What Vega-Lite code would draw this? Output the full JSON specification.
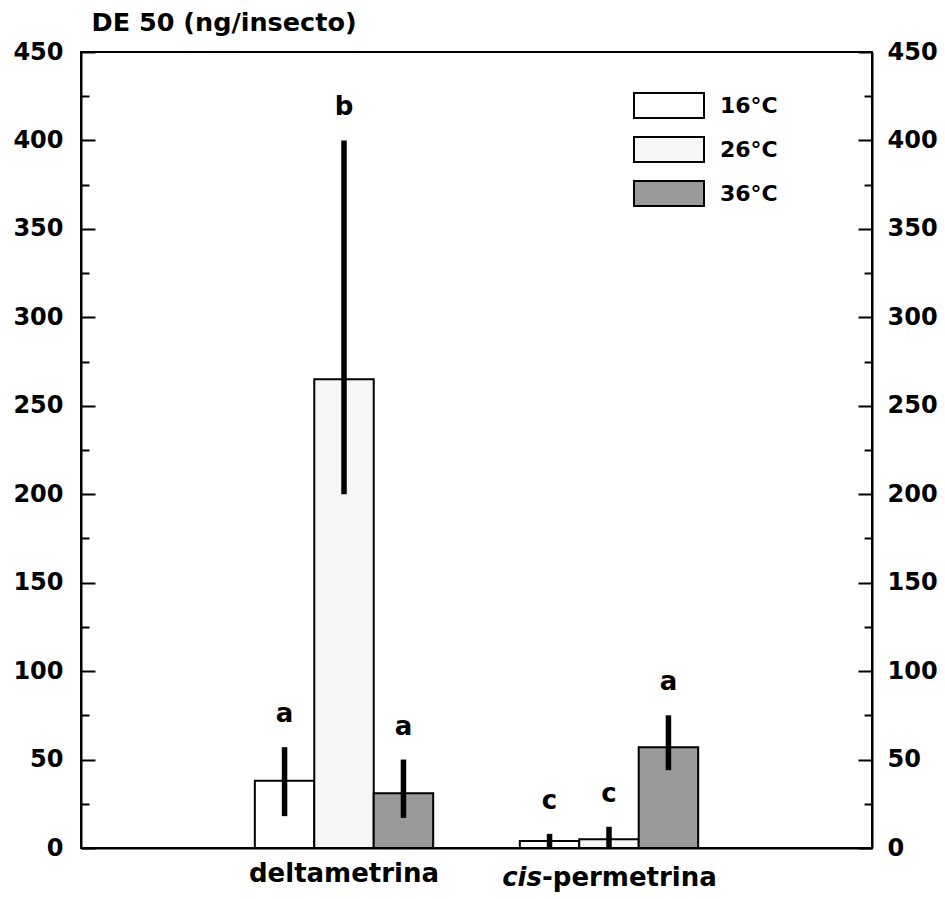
{
  "$schema": "https://vega.github.io/schema/vega-lite/v6.json",
  "width": 791,
  "height": 796,
  "autosize": "none",
  "padding": {"left": 81, "top": 52, "right": 73, "bottom": 51},
  "background": "white",
  "config": {
    "font": "DejaVu Sans",
    "view": {"stroke": "black", "strokeWidth": 2},
    "axis": {
      "grid": false,
      "domainColor": "black",
      "domainWidth": 2,
      "tickColor": "black",
      "tickWidth": 2,
      "labelColor": "black",
      "labelFont": "DejaVu Sans",
      "labelFontWeight": "bold",
      "labelFontSize": 24,
      "labelLimit": 0,
      "titleColor": "black",
      "titleFont": "DejaVu Sans"
    },
    "legend": {
      "orient": "none",
      "legendX": 552,
      "legendY": 35,
      "symbolType": "M-1,-0.72H3V0.72H-1Z",
      "symbolSize": 1225,
      "symbolStrokeColor": "black",
      "symbolStrokeWidth": 2,
      "symbolOpacity": 1,
      "labelFont": "DejaVu Sans",
      "labelFontSize": 22,
      "labelFontWeight": "bold",
      "labelColor": "black",
      "labelOffset": 50,
      "rowPadding": 8
    }
  },
  "data": {
    "values": [
      {"compuesto": "deltametrina", "temperatura": "16°C", "de50": 38, "min": 18, "max": 57, "letra": "a"},
      {"compuesto": "deltametrina", "temperatura": "26°C", "de50": 265, "min": 200, "max": 400, "letra": "b"},
      {"compuesto": "deltametrina", "temperatura": "36°C", "de50": 31, "min": 17, "max": 50, "letra": "a"},
      {"compuesto": "cis-permetrina", "temperatura": "16°C", "de50": 4, "min": 0, "max": 8, "letra": "c"},
      {"compuesto": "cis-permetrina", "temperatura": "26°C", "de50": 5, "min": 0, "max": 12, "letra": "c"},
      {"compuesto": "cis-permetrina", "temperatura": "36°C", "de50": 57, "min": 44, "max": 75, "letra": "a"}
    ]
  },
  "layer": [
    {
      "mark": {"type": "bar", "stroke": "black", "strokeWidth": 2},
      "encoding": {
        "x": {
          "field": "compuesto",
          "type": "nominal",
          "sort": ["deltametrina", "cis-permetrina"],
          "scale": {"paddingInner": 0.327, "paddingOuter": 0.656},
          "axis": {
            "title": null,
            "ticks": false,
            "labelAngle": 0,
            "labelFontSize": 26,
            "labelPadding": 12,
            "labelExpr": "datum.value === 'cis-permetrina' ? '' : datum.label"
          }
        },
        "xOffset": {
          "field": "temperatura",
          "type": "nominal",
          "sort": ["16°C", "26°C", "36°C"],
          "scale": {"paddingInner": 0, "paddingOuter": 0}
        },
        "y": {
          "field": "de50",
          "type": "quantitative",
          "scale": {"domain": [0, 450], "nice": false},
          "axis": {
            "orient": "left",
            "title": "DE 50 (ng/insecto)",
            "titleAngle": 0,
            "titleAlign": "left",
            "titleBaseline": "middle",
            "titleX": 10,
            "titleY": -30,
            "titleFontSize": 25.5,
            "titleFontWeight": "bold",
            "values": [0, 25, 50, 75, 100, 125, 150, 175, 200, 225, 250, 275, 300, 325, 350, 375, 400, 425, 450],
            "labelExpr": "datum.value % 50 === 0 ? datum.label : ''",
            "tickSize": {"condition": {"test": "datum.value % 50 === 0", "value": -14}, "value": -8},
            "labelPadding": 32
          }
        },
        "fill": {
          "field": "temperatura",
          "type": "nominal",
          "sort": ["16°C", "26°C", "36°C"],
          "scale": {"domain": ["16°C", "26°C", "36°C"], "range": ["#ffffff", "#f6f6f6", "#9a9a9a"]},
          "legend": {"title": null}
        }
      }
    },
    {
      "mark": {"type": "rule", "color": "black", "strokeWidth": 5.5},
      "encoding": {
        "x": {"field": "compuesto", "type": "nominal", "sort": ["deltametrina", "cis-permetrina"]},
        "xOffset": {"field": "temperatura", "type": "nominal", "sort": ["16°C", "26°C", "36°C"]},
        "y": {
          "field": "min",
          "type": "quantitative",
          "axis": {
            "orient": "right",
            "title": null,
            "values": [0, 25, 50, 75, 100, 125, 150, 175, 200, 225, 250, 275, 300, 325, 350, 375, 400, 425, 450],
            "labelExpr": "datum.value % 50 === 0 ? datum.label : ''",
            "tickSize": {"condition": {"test": "datum.value % 50 === 0", "value": -14}, "value": -8},
            "labelPadding": 29
          }
        },
        "y2": {"field": "max"}
      }
    },
    {
      "mark": {"type": "text", "font": "DejaVu Sans", "fontSize": 26, "fontWeight": "bold", "color": "black", "baseline": "alphabetic", "dy": -25},
      "encoding": {
        "x": {"field": "compuesto", "type": "nominal", "sort": ["deltametrina", "cis-permetrina"]},
        "xOffset": {"field": "temperatura", "type": "nominal", "sort": ["16°C", "26°C", "36°C"]},
        "y": {"field": "max", "type": "quantitative", "axis": null},
        "text": {"field": "letra"}
      }
    },
    {
      "data": {"values": [{"compuesto": "cis-permetrina", "parte": "cis"}]},
      "mark": {"type": "text", "font": "DejaVu Sans", "fontSize": 26, "fontWeight": "bold", "fontStyle": "italic", "color": "black", "align": "right", "baseline": "alphabetic", "dx": -67, "dy": 38},
      "encoding": {
        "x": {"field": "compuesto", "type": "nominal", "sort": ["deltametrina", "cis-permetrina"]},
        "y": {"datum": 0, "type": "quantitative", "axis": null},
        "text": {"field": "parte"}
      }
    },
    {
      "data": {"values": [{"compuesto": "cis-permetrina", "parte": "-permetrina"}]},
      "mark": {"type": "text", "font": "DejaVu Sans", "fontSize": 26, "fontWeight": "bold", "color": "black", "align": "left", "baseline": "alphabetic", "dx": -67, "dy": 38},
      "encoding": {
        "x": {"field": "compuesto", "type": "nominal", "sort": ["deltametrina", "cis-permetrina"]},
        "y": {"datum": 0, "type": "quantitative", "axis": null},
        "text": {"field": "parte"}
      }
    }
  ],
  "resolve": {"axis": {"y": "independent"}}
}
